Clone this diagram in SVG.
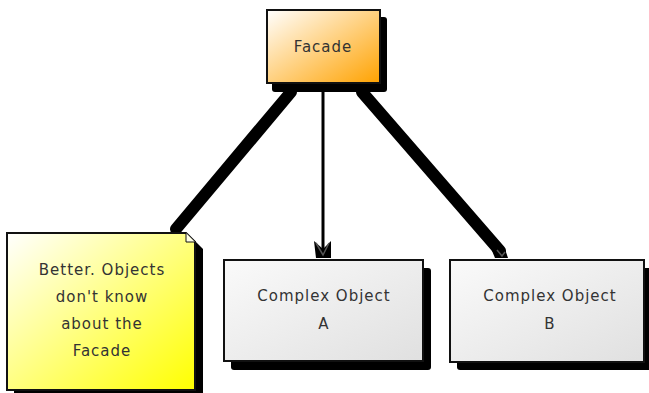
<svg xmlns="http://www.w3.org/2000/svg" width="649" height="393" viewBox="0 0 649 393">
  <defs>
    <linearGradient id="gOrange" x1="0" y1="0" x2="1" y2="1">
      <stop offset="0" stop-color="#ffffff"/>
      <stop offset="1" stop-color="#ffa200"/>
    </linearGradient>
    <linearGradient id="gYellow" x1="0" y1="0" x2="1" y2="1">
      <stop offset="0" stop-color="#ffffff"/>
      <stop offset="1" stop-color="#ffff00"/>
    </linearGradient>
    <linearGradient id="gGrey" x1="0" y1="0" x2="1" y2="1">
      <stop offset="0" stop-color="#fafafa"/>
      <stop offset="1" stop-color="#e0e0e0"/>
    </linearGradient>
  </defs>
  <style>
    .shadow { fill: #000; }
    .box { stroke: #111; stroke-width: 2; }
    .lbl { font-family: "DejaVu Sans", sans-serif; font-size: 15px; fill: #333; text-anchor: middle; letter-spacing: 1px; }
    .thick { stroke: #000; stroke-width: 12; stroke-linecap: round; fill: none; }
    .thin { stroke: #000; stroke-width: 3; fill: none; }
    .head { fill: #000; }
    .headv { fill: none; stroke: #555; stroke-width: 1.5; }
  </style>

  <g id="connectors">
    <line class="thick" x1="291" y1="92" x2="176" y2="229"/>
    <line class="thin" x1="323" y1="86" x2="323" y2="250"/>
    <path class="head" d="M314,241 L323,249 L331,241 L331,258 L316,258 Z"/>
    <path class="headv" d="M316,243 L323,255 L329,243"/>
    <line class="thick" x1="362" y1="92" x2="500" y2="251"/>
    <path class="head" d="M490,246 L505,249 L508,258 L495,258 Z"/>
    <path class="headv" d="M497,250 L502,256 L505,252"/>
  </g>

  <g id="facade">
    <rect class="shadow" x="272" y="17" width="115" height="75" rx="3"/>
    <rect class="box" x="267" y="10" width="113" height="73" fill="url(#gOrange)"/>
    <text class="lbl" x="323" y="52">Facade</text>
  </g>

  <g id="note">
    <path class="shadow" d="M14,240 H194 L203,249 V397 H14 Z"/>
    <path class="box" d="M7,233 H186 L195,242 V390 H7 Z" fill="url(#gYellow)"/>
    <path d="M186,233 V242 H195" fill="#ffffe8" stroke="#111" stroke-width="1"/>
    <text class="lbl" x="102" y="275">Better. Objects</text>
    <text class="lbl" x="102" y="302">don't know</text>
    <text class="lbl" x="102" y="329">about the</text>
    <text class="lbl" x="102" y="356">Facade</text>
  </g>

  <g id="objA">
    <rect class="shadow" x="231" y="268" width="200" height="102" rx="3"/>
    <rect class="box" x="224" y="260" width="199" height="101" fill="url(#gGrey)"/>
    <text class="lbl" x="324" y="301">Complex Object</text>
    <text class="lbl" x="324" y="329">A</text>
  </g>

  <g id="objB">
    <rect class="shadow" x="457" y="268" width="194" height="102" rx="3"/>
    <rect class="box" x="450" y="260" width="194" height="102" fill="url(#gGrey)"/>
    <text class="lbl" x="550" y="301">Complex Object</text>
    <text class="lbl" x="550" y="329">B</text>
  </g>
</svg>
